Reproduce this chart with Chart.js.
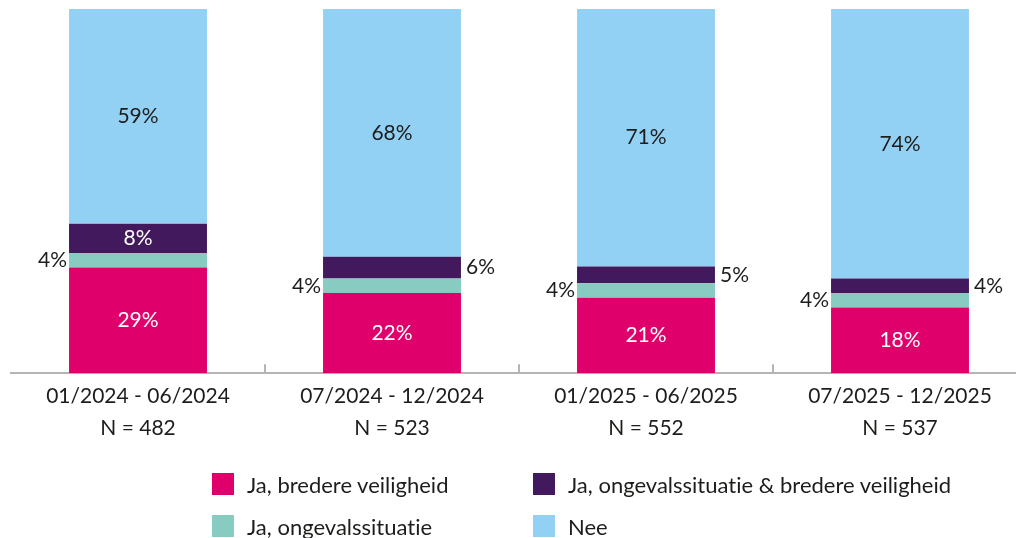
<!DOCTYPE html>
<html>
<head>
<meta charset="utf-8">
<script src="https://cdn.jsdelivr.net/npm/chart.js@4"></script>
<style>
  body { margin: 0; width: 1016px; height: 538px; overflow: hidden; background: #fff; font-family: Lato, sans-serif; }
  #wrap { position: relative; width: 1016px; height: 538px; overflow: hidden; }
  #legend { position: absolute; left: 212px; top: 473px; display: grid; grid-template-columns: 321px auto; row-gap: 20px; }
  .item { display: flex; align-items: center; height: 22px; font-size: 22px; color: #1d1d1b; white-space: nowrap; font-variant-ligatures: none; }
  .box { width: 22px; height: 22px; margin-right: 13px; flex: none; }
</style>
</head>
<body>
<div id="wrap">
  <canvas id="myChart" width="1027" height="538"></canvas>
  <div id="legend"></div>
</div>
<script>
const periods = ['01/2024 - 06/2024', '07/2024 - 12/2024', '01/2025 - 06/2025', '07/2025 - 12/2025'];
const sampleSizes = [482, 523, 552, 537];

const seriesNames = ['Ja, bredere veiligheid', 'Ja, ongevalssituatie', 'Ja, ongevalssituatie & bredere veiligheid', 'Nee'];
const bredere = [29, 22, 20.7, 18];
const ongeval = [4, 4, 4.0, 4];
const beide = [8, 6, 4.6, 4];
const nee = [59, 68, 70.7, 74];

const colors = ['#e0006b', '#87cbc1', '#42195c', '#93d1f4'];
const textDark = '#1d1d1b';

const labels = periods.map((p, i) => [p, 'N = ' + sampleSizes[i]]);

// small tick marks between the categories, pointing up from the axis
const boundaryTicks = {
  id: 'boundaryTicks',
  afterDraw(chart) {
    const ctx = chart.ctx;
    const xs = chart.scales.x;
    const yAxis = chart.chartArea.bottom;
    ctx.save();
    ctx.strokeStyle = '#b5b5b5';
    ctx.lineWidth = 2;
    for (let i = 1; i < labels.length; i++) {
      const x = Math.round((xs.getPixelForValue(i - 1) + xs.getPixelForValue(i)) / 2);
      ctx.beginPath();
      ctx.moveTo(x, yAxis);
      ctx.lineTo(x, yAxis - 9);
      ctx.stroke();
    }
    ctx.restore();
  }
};

// percentage labels: inside the segment, or beside the bar when the segment is thin
const valueLabels = {
  id: 'valueLabels',
  afterDatasetsDraw(chart) {
    const ctx = chart.ctx;
    ctx.save();
    ctx.font = '21px Lato';
    ctx.textBaseline = 'middle';
    chart.data.datasets.forEach((ds, di) => {
      const meta = chart.getDatasetMeta(di);
      meta.data.forEach((bar, j) => {
        const v = ds.data[j];
        const txt = Math.round(v) + '%';
        const cy = (bar.y + bar.base) / 2;
        const left = bar.x - bar.width / 2;
        const right = bar.x + bar.width / 2;
        if (di === 1) {
          ctx.fillStyle = textDark;
          ctx.textAlign = 'right';
          ctx.fillText(txt, left - 2, cy);
        } else if (di === 2 && v < 7.5) {
          ctx.fillStyle = textDark;
          ctx.textAlign = 'left';
          ctx.fillText(txt, right + 5, cy);
        } else {
          ctx.fillStyle = di === 3 ? textDark : '#ffffff';
          ctx.textAlign = 'center';
          ctx.fillText(txt, bar.x, cy);
        }
      });
    });
    ctx.restore();
  }
};

const ctx1 = document.getElementById('myChart').getContext('2d');
const chart = new Chart(ctx1, {
  type: 'bar',
  data: {
    labels: labels,
    datasets: [bredere, ongeval, beide, nee].map((d, i) => ({
      label: seriesNames[i],
      data: d,
      backgroundColor: colors[i],
      borderWidth: 0,
      barPercentage: 0.543,
      categoryPercentage: 1
    }))
  },
  options: {
    responsive: false,
    animation: false,
    layout: { padding: { left: 11, top: 9, right: 0, bottom: 87 } },
    plugins: { legend: { display: false }, tooltip: { enabled: false } },
    scales: {
      x: {
        stacked: true,
        grid: { display: false, drawTicks: false },
        border: { color: '#b5b5b5', width: 2 },
        ticks: { color: textDark, padding: 7, font: { family: 'Lato', size: 21, lineHeight: 1.52 } }
      },
      y: { stacked: true, display: false, min: 0, max: 100 }
    }
  },
  plugins: [boundaryTicks, valueLabels]
});

// legend in two columns, same order as the reference
const legendOrder = [0, 2, 1, 3];
document.getElementById('legend').innerHTML = legendOrder.map(i =>
  '<div class="item"><span class="box" style="background:' + colors[i] + '"></span>' +
  seriesNames[i].replace('&', '&amp;') + '</div>').join('');
</script>
</body>
</html>
